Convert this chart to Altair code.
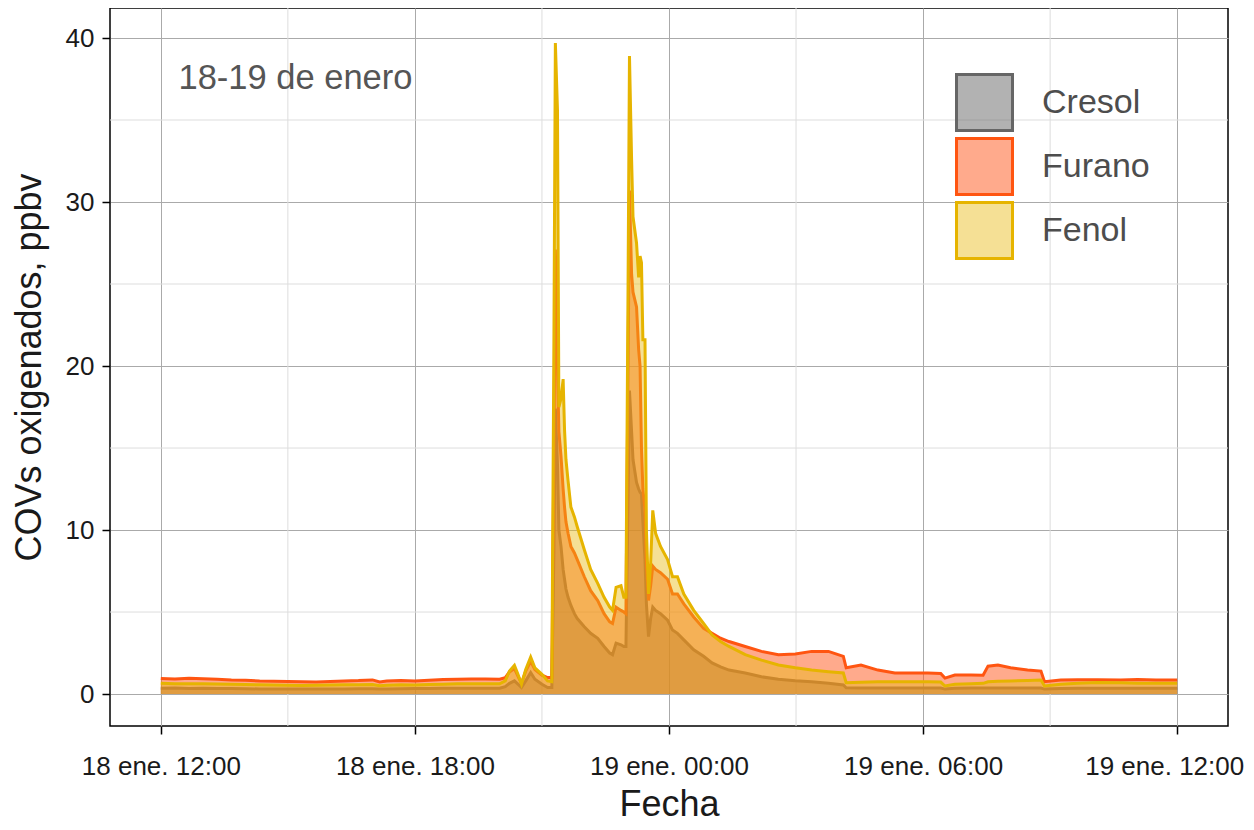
import altair as alt
import pandas as pd

# ---------------- data ----------------
times = [
    "2024-01-18T12:00", "2024-01-18T12:20", "2024-01-18T12:40", "2024-01-18T13:00",
    "2024-01-18T13:20", "2024-01-18T13:40", "2024-01-18T14:00", "2024-01-18T14:20",
    "2024-01-18T14:40", "2024-01-18T15:00", "2024-01-18T15:20", "2024-01-18T15:40",
    "2024-01-18T16:00", "2024-01-18T16:20", "2024-01-18T16:40", "2024-01-18T17:00",
    "2024-01-18T17:10", "2024-01-18T17:20", "2024-01-18T17:40", "2024-01-18T18:00",
    "2024-01-18T18:20", "2024-01-18T18:40", "2024-01-18T19:00", "2024-01-18T19:20",
    "2024-01-18T19:40", "2024-01-18T20:00", "2024-01-18T20:08", "2024-01-18T20:14",
    "2024-01-18T20:21", "2024-01-18T20:26", "2024-01-18T20:31", "2024-01-18T20:37",
    "2024-01-18T20:44", "2024-01-18T20:50", "2024-01-18T21:00", "2024-01-18T21:08",
    "2024-01-18T21:14", "2024-01-18T21:17", "2024-01-18T21:19", "2024-01-18T21:22",
    "2024-01-18T21:24", "2024-01-18T21:27", "2024-01-18T21:30", "2024-01-18T21:32",
    "2024-01-18T21:34", "2024-01-18T21:37", "2024-01-18T21:41", "2024-01-18T21:46",
    "2024-01-18T21:50", "2024-01-18T22:00", "2024-01-18T22:09", "2024-01-18T22:19",
    "2024-01-18T22:28", "2024-01-18T22:36", "2024-01-18T22:40", "2024-01-18T22:45",
    "2024-01-18T22:52", "2024-01-18T22:56", "2024-01-18T22:59", "2024-01-18T23:02",
    "2024-01-18T23:04", "2024-01-18T23:07", "2024-01-18T23:09", "2024-01-18T23:14",
    "2024-01-18T23:17", "2024-01-18T23:19", "2024-01-18T23:21", "2024-01-18T23:23",
    "2024-01-18T23:26", "2024-01-18T23:28", "2024-01-18T23:31", "2024-01-18T23:34",
    "2024-01-18T23:37", "2024-01-18T23:41", "2024-01-18T23:48", "2024-01-18T23:58",
    "2024-01-19T00:05", "2024-01-19T00:12", "2024-01-19T00:21", "2024-01-19T00:35",
    "2024-01-19T00:49", "2024-01-19T01:01", "2024-01-19T01:13", "2024-01-19T01:25",
    "2024-01-19T01:48", "2024-01-19T02:11", "2024-01-19T02:35", "2024-01-19T02:59",
    "2024-01-19T03:22", "2024-01-19T03:46", "2024-01-19T04:07", "2024-01-19T04:11",
    "2024-01-19T04:32", "2024-01-19T04:56", "2024-01-19T05:20", "2024-01-19T05:43",
    "2024-01-19T06:07", "2024-01-19T06:25", "2024-01-19T06:31", "2024-01-19T06:45",
    "2024-01-19T07:08", "2024-01-19T07:25", "2024-01-19T07:32", "2024-01-19T07:46",
    "2024-01-19T08:04", "2024-01-19T08:28", "2024-01-19T08:47", "2024-01-19T08:52",
    "2024-01-19T09:15", "2024-01-19T09:39", "2024-01-19T10:07", "2024-01-19T10:40",
    "2024-01-19T11:04", "2024-01-19T11:30", "2024-01-19T12:00",
]

cresol = [
    0.35, 0.36, 0.34, 0.35, 0.34, 0.33, 0.32, 0.31,
    0.30, 0.30, 0.30, 0.30, 0.31, 0.31, 0.32, 0.32,
    0.30, 0.31, 0.32, 0.33, 0.34, 0.35, 0.35, 0.35,
    0.35, 0.35, 0.45, 0.65, 0.80, 0.60, 0.40, 0.80,
    1.30, 0.90, 0.60, 0.40, 0.40, 9.0, 17.4, 14.0,
    10.0, 9.0, 7.6, 7.0, 6.4, 5.9, 5.4, 4.9,
    4.6, 4.1, 3.7, 3.4, 2.9, 2.5, 2.4, 3.1,
    3.0, 2.9, 2.9, 12.0, 18.5, 16.0, 14.3, 12.9,
    12.5, 12.3, 12.2, 10.5, 8.2, 5.5, 3.5, 4.6,
    5.3, 5.1, 4.9, 4.5, 3.9, 3.7, 3.3, 2.7,
    2.3, 1.9, 1.65, 1.46, 1.28, 1.05, 0.90, 0.81,
    0.75, 0.65, 0.55, 0.38, 0.37, 0.37, 0.37, 0.37,
    0.37, 0.37, 0.30, 0.35, 0.37, 0.37, 0.37, 0.37,
    0.37, 0.37, 0.37, 0.30, 0.33, 0.35, 0.35, 0.35,
    0.35, 0.35, 0.35,
]

furano = [
    0.95, 0.92, 0.96, 0.93, 0.90, 0.86, 0.84, 0.80,
    0.78, 0.77, 0.75, 0.74, 0.77, 0.80, 0.82, 0.86,
    0.74, 0.80, 0.83, 0.80, 0.84, 0.88, 0.90, 0.92,
    0.91, 0.90, 1.00, 1.35, 1.55, 1.10, 0.65, 1.40,
    2.00, 1.50, 1.15, 1.00, 1.00, 15.0, 27.1, 20.0,
    16.0, 14.5, 12.5, 11.4, 10.5, 9.8, 9.0, 8.6,
    8.2, 7.15, 6.3, 5.7, 4.9, 4.4, 4.3, 5.3,
    5.1, 5.0, 4.9, 20.0, 30.7, 25.6, 24.5, 23.6,
    21.0, 20.0, 15.0, 12.5, 11.2, 8.0, 5.7, 6.6,
    7.8, 7.6, 7.4, 7.0, 6.1, 6.1, 5.5, 4.7,
    4.0, 3.7, 3.4, 3.2, 2.9, 2.6, 2.4, 2.44,
    2.6, 2.6, 2.3, 1.6, 1.77, 1.46, 1.28, 1.28,
    1.28, 1.25, 0.97, 1.16, 1.16, 1.15, 1.70, 1.77,
    1.60, 1.46, 1.40, 0.75, 0.85, 0.87, 0.87, 0.85,
    0.88, 0.85, 0.85,
]

fenol = [
    0.65, 0.63, 0.62, 0.63, 0.61, 0.60, 0.58, 0.56,
    0.55, 0.54, 0.52, 0.53, 0.55, 0.56, 0.57, 0.58,
    0.50, 0.54, 0.56, 0.55, 0.58, 0.60, 0.62, 0.62,
    0.63, 0.62, 0.80, 1.40, 1.75, 1.20, 0.60, 1.50,
    2.25, 1.60, 1.20, 0.80, 0.75, 22.0, 39.7, 35.6,
    17.5, 18.0, 19.2, 16.1, 14.3, 13.0, 11.4, 10.8,
    10.2, 8.8, 7.6, 6.75, 5.9, 5.3, 5.1, 6.5,
    6.6, 5.9, 5.9, 25.0, 38.9, 32.6, 29.1, 27.5,
    25.4, 26.7, 26.3, 21.6, 21.6, 10.0, 6.1, 8.0,
    11.2, 9.8, 9.0, 8.2, 7.15, 7.15, 6.1, 5.1,
    4.3, 3.6, 3.2, 2.9, 2.4, 2.07, 1.77, 1.6,
    1.46, 1.36, 1.28, 0.69, 0.72, 0.75, 0.75, 0.75,
    0.75, 0.73, 0.49, 0.60, 0.62, 0.65, 0.75, 0.78,
    0.80, 0.82, 0.85, 0.49, 0.60, 0.65, 0.70, 0.68,
    0.66, 0.65, 0.65,
]

series_names = ["Cresol", "Furano", "Fenol"]
line_colors = ["#666666", "#FF5511", "#E6B400"]
fill_colors = ["rgba(102,102,102,0.5)", "rgba(255,85,25,0.5)", "rgba(232,186,20,0.45)"]

x_major_ticks = [(18, 12), (18, 18), (19, 0), (19, 6), (19, 12)]
x_minor_ticks = ["2024-01-18T15:00", "2024-01-18T21:00", "2024-01-19T03:00", "2024-01-19T09:00"]
y_major_ticks = [0, 10, 20, 30, 40]
y_minor_ticks = [5, 15, 25, 35]
x_limits = [(18, 10, 48), (19, 13, 12)]
y_limits = [-1.95, 41.83]

annotation_time = ["2024-01-18T12:25"]
annotation_value = [37.5]
annotation_text = ["18-19 de enero"]

# ---------------- tables ----------------
rows = []
for name, vals in zip(series_names, [cresol, furano, fenol]):
    for t, v in zip(times, vals):
        rows.append({"t": t, "v": v, "Serie": name})
df = pd.DataFrame(rows)
df_xminor = pd.DataFrame({"mx": x_minor_ticks})
df_yminor = pd.DataFrame({"my": y_minor_ticks})
df_ann = pd.DataFrame({"t": annotation_time, "v": annotation_value, "txt": annotation_text})

FONT = "Liberation Sans"


def dt(d, h, m=0):
    return alt.DateTime(year=2024, month=1, date=d, hours=h, minutes=m)


x_scale = alt.Scale(domain=[dt(*x_limits[0]), dt(*x_limits[1])], nice=False)
y_scale = alt.Scale(domain=y_limits, nice=False, zero=False)

x_axis = alt.Axis(
    values=[dt(d, h) for d, h in x_major_ticks],
    labelExpr="timeFormat(datum.value, '%d') + ' ene. ' + timeFormat(datum.value, '%H:%M')",
    labelOffset={"condition": {"test": "datum.value > datetime(2024, 0, 19, 9, 0)", "value": -13},
                 "value": 0},
    labelFontSize=26, labelFont=FONT, labelColor="#1a1a1a", labelPadding=19,
    tickColor="black", tickSize=8, tickWidth=1.5,
    titleFontSize=36, titleFont=FONT, titleFontWeight="normal", titleColor="#1a1a1a",
    titlePadding=8, gridColor="#aaaaaa", gridWidth=1, domain=False, labelFlush=False,
)
y_axis = alt.Axis(
    values=y_major_ticks,
    labelFontSize=26, labelFont=FONT, labelColor="#1a1a1a", labelPadding=8,
    tickColor="black", tickSize=8, tickWidth=1.5,
    titleFontSize=36, titleFont=FONT, titleFontWeight="normal", titleColor="#1a1a1a",
    titlePadding=17, gridColor="#aaaaaa", gridWidth=1, domain=False,
)

X = alt.X("t:T", scale=x_scale, axis=x_axis, title="Fecha")
Y = alt.Y("v:Q", scale=y_scale, axis=y_axis, title="COVs oxigenados, ppbv")

legend = alt.Legend(
    title=None, orient="none", legendX=845, legendY=65,
    symbolType="square", symbolSize=3136, symbolStrokeWidth=3, symbolOpacity=1,
    labelFontSize=34, labelFont=FONT, labelColor="#4d4d4d", labelOffset=28,
    rowPadding=-15, padding=0,
)
fill_enc = alt.Fill("Serie:N", scale=alt.Scale(domain=series_names, range=fill_colors), legend=legend)
stroke_enc = alt.Stroke("Serie:N", scale=alt.Scale(domain=series_names, range=line_colors), legend=legend)

minor_x = alt.Chart(df_xminor).mark_rule(color="#dddddd", strokeWidth=1).encode(
    x=alt.X("mx:T", scale=x_scale, axis=x_axis, title="Fecha")
)
minor_y = alt.Chart(df_yminor).mark_rule(color="#dddddd", strokeWidth=1).encode(
    y=alt.Y("my:Q", scale=y_scale, axis=y_axis, title="COVs oxigenados, ppbv")
)

layers = [minor_x, minor_y]
base = alt.Chart(df)
for name in series_names:
    area = base.transform_filter(alt.datum.Serie == name).mark_area(strokeWidth=0).encode(
        x=X, y=Y, y2=alt.datum(0), fill=fill_enc
    )
    line = base.transform_filter(alt.datum.Serie == name).mark_line(strokeWidth=3).encode(
        x=X, y=Y, stroke=stroke_enc
    )
    layers += [area, line]

ann = alt.Chart(df_ann).mark_text(
    align="left", baseline="middle", fontSize=34.5, font=FONT, color="#555555"
).encode(x=alt.X("t:T", scale=x_scale, axis=x_axis, title="Fecha"),
         y=alt.Y("v:Q", scale=y_scale, axis=y_axis, title="COVs oxigenados, ppbv"),
         text="txt:N")
layers.append(ann)

chart = alt.layer(*layers).properties(
    width=1118, height=718,
    autosize=alt.AutoSizeParams(type="none"),
    padding={"left": 102, "top": 0, "right": 18, "bottom": 96},
    background="white",
).configure_view(stroke="black", strokeWidth=1.5)

chart.save("out.html", embed_options={"renderer": "svg", "actions": False})
